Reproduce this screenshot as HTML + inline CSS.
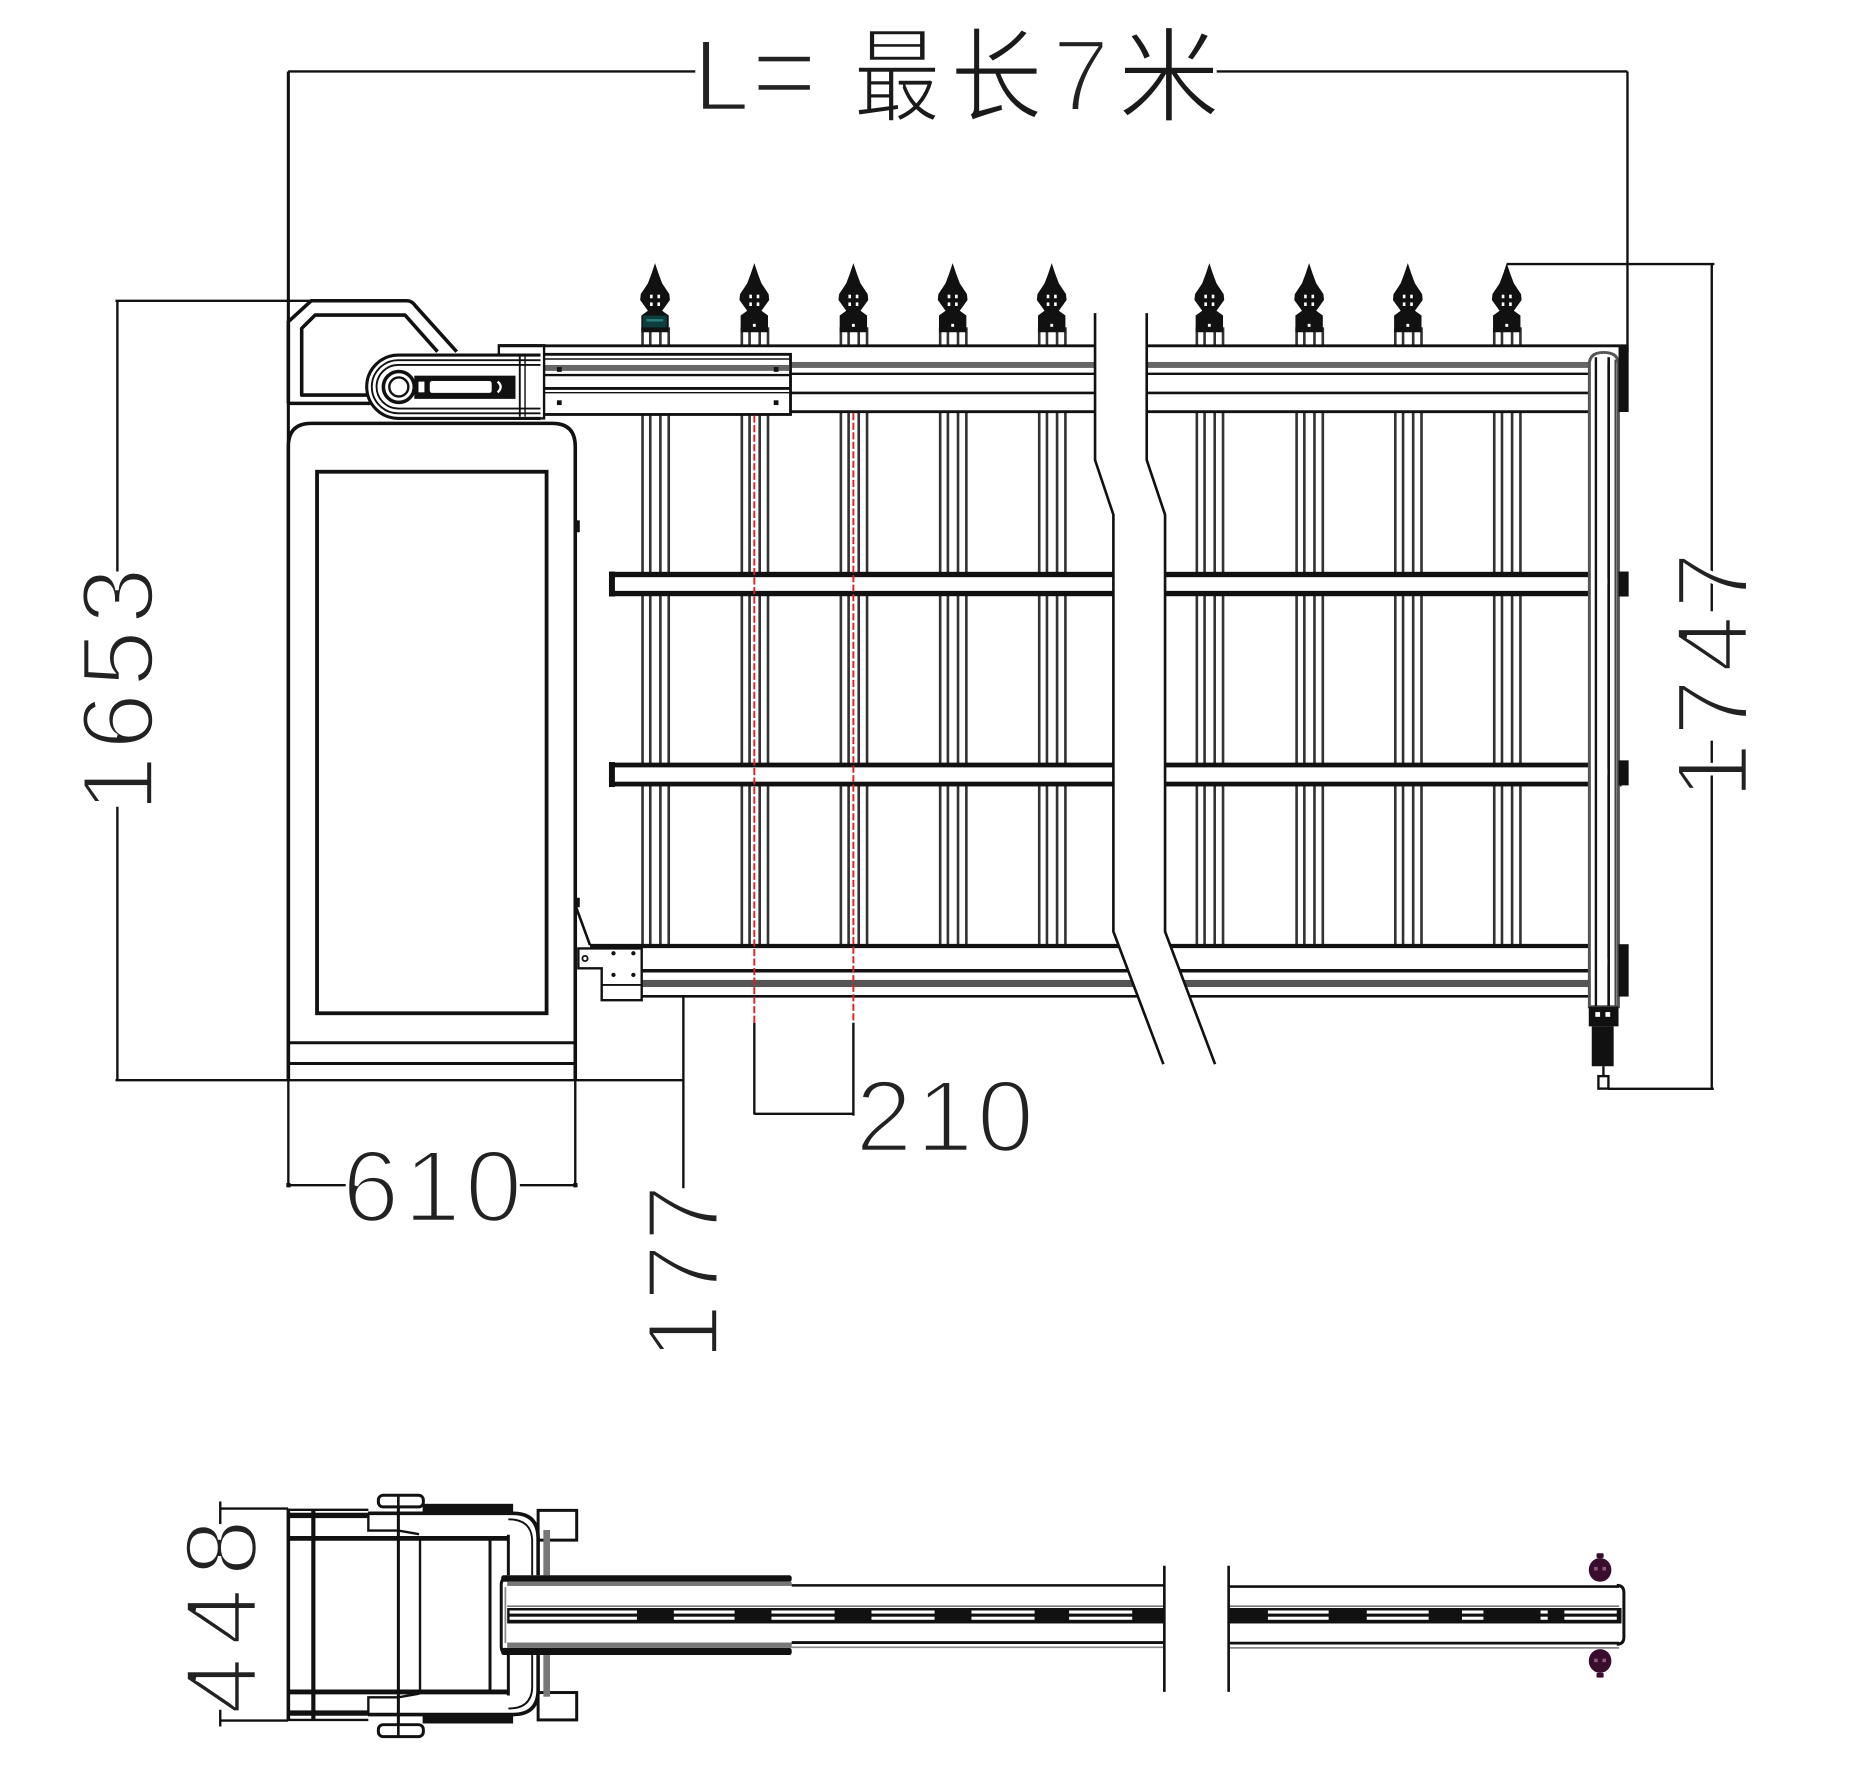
<!DOCTYPE html>
<html><head><meta charset="utf-8"><title>gate drawing</title>
<style>html,body{margin:0;padding:0;background:#fff}svg{display:block}</style></head>
<body>
<svg xmlns="http://www.w3.org/2000/svg" xmlns:xlink="http://www.w3.org/1999/xlink" width="1862" height="1786" viewBox="0 0 1564 1500" preserveAspectRatio="none">
<defs>
<g id="sp">
 <polygon points="0,221 3,230 6,238 12,247 12.5,252 6,261 11.5,265 11.5,279 -11.5,279 -11.5,265 -6,261 -12.5,252 -12,247 -6,238 -3,230" fill="#111"/>
 <rect x="-4.2" y="247.5" width="2.2" height="3" fill="#fff"/>
 <rect x="2" y="247.5" width="2.2" height="3" fill="#fff"/>
 <rect x="-4.2" y="254" width="2.2" height="3" fill="#fff"/>
 <rect x="2" y="254" width="2.2" height="3" fill="#fff"/>
 <rect x="-1.2" y="272" width="2.4" height="2.5" fill="#fff"/>
</g>
<g id="bp">
 <rect x="-10.5" y="276" width="6.5" height="518" fill="#fff" stroke="#333" stroke-width="2.2"/>
 <rect x="4.5" y="276" width="7" height="518" fill="#fff" stroke="#333" stroke-width="2.2"/>
</g>
</defs>
<rect width="1564" height="1500" fill="#fff"/>

<!-- ===== Dimension lines ===== -->
<g stroke="#111" stroke-width="2" fill="none">
 <line x1="242" y1="60" x2="584" y2="60"/>
 <line x1="1022" y1="60" x2="1367" y2="60"/>
 <line x1="1367" y1="60" x2="1367" y2="296"/>
 <line x1="97" y1="252.6" x2="262" y2="252.6"/>
 <line x1="98.6" y1="252.6" x2="98.6" y2="480"/>
 <line x1="98.6" y1="677.6" x2="98.6" y2="907.2"/>
 <line x1="97" y1="907.2" x2="574" y2="907.2"/>
 <line x1="242.2" y1="907" x2="242.2" y2="997"/>
 <line x1="483.2" y1="907" x2="483.2" y2="997"/>
 <line x1="242" y1="995.4" x2="291" y2="995.4"/>
 <line x1="435" y1="995.4" x2="484" y2="995.4"/>
 <line x1="574" y1="837" x2="574" y2="998"/>
 <line x1="633.6" y1="859" x2="633.6" y2="936"/>
 <line x1="716.8" y1="859" x2="716.8" y2="937"/>
 <line x1="633.6" y1="935.5" x2="716.8" y2="935.5"/>
 <line x1="1265.6" y1="221.8" x2="1440" y2="221.8"/>
 <line x1="1437.8" y1="221.8" x2="1437.8" y2="513.4"/>
 <line x1="1437.8" y1="622" x2="1437.8" y2="914.5"/>
 <line x1="1351" y1="914.5" x2="1439.5" y2="914.5"/>
 <line x1="185" y1="1267" x2="242" y2="1267"/>
 <line x1="185" y1="1445" x2="242" y2="1445"/>
 <line x1="185" y1="1261" x2="185" y2="1280"/>
 <line x1="185" y1="1436" x2="185" y2="1450"/>
</g>
<g fill="#111">
 <rect x="240.5" y="993.6" width="3.6" height="3.6"/>
 <rect x="481.5" y="993.6" width="3.6" height="3.6"/>
</g>

<!-- ===== Texts ===== -->
<g font-family="'Liberation Sans', sans-serif" font-size="86" fill="#222" stroke="#fff" stroke-width="3">
 <text x="582" y="93">L</text>
 <text x="631" y="93" font-size="95">=</text>
 <text x="884" y="93">7</text>
 <text transform="translate(128.6,579.5) rotate(-90)" text-anchor="middle" textLength="206" lengthAdjust="spacing">1653</text>
 <text transform="translate(1468,567.5) rotate(-90)" text-anchor="middle" textLength="208" lengthAdjust="spacing">1747</text>
 <text transform="translate(603,1068.8) rotate(-90)" text-anchor="middle" textLength="148" lengthAdjust="spacing">177</text>
 <text transform="translate(215.6,1358) rotate(-90)" text-anchor="middle" textLength="164" lengthAdjust="spacing">448</text>
 <text x="363" y="1026" text-anchor="middle" textLength="151" lengthAdjust="spacing">610</text>
 <text x="793.5" y="967" text-anchor="middle" textLength="150" lengthAdjust="spacing">210</text>
</g>
<g font-family="'Liberation Sans','Noto Sans CJK SC',sans-serif" font-size="86" fill="#1a1a1a" stroke="#fff" stroke-width="2">
 <text x="717" y="95" textLength="73" lengthAdjust="spacingAndGlyphs">最</text>
 <text x="798" y="95" textLength="78" lengthAdjust="spacingAndGlyphs">长</text>
 <text x="939" y="95" textLength="86" lengthAdjust="spacingAndGlyphs">米</text>
</g>

<!-- ===== Fence bars ===== -->
<use xlink:href="#bp" href="#bp" x="550.2"/>
<use xlink:href="#bp" href="#bp" x="633.6"/>
<use xlink:href="#bp" href="#bp" x="716.8"/>
<use xlink:href="#bp" href="#bp" x="800.2"/>
<use xlink:href="#bp" href="#bp" x="883.4"/>
<use xlink:href="#bp" href="#bp" x="1015.8"/>
<use xlink:href="#bp" href="#bp" x="1099.6"/>
<use xlink:href="#bp" href="#bp" x="1182.5"/>
<use xlink:href="#bp" href="#bp" x="1265.6"/>

<!-- middle rails -->
<rect x="514" y="482.5" width="846" height="16" fill="#fff" stroke="#111" stroke-width="4.5"/>
<rect x="511.5" y="480" width="5" height="21" fill="#111"/>
<rect x="514" y="642.5" width="846" height="16" fill="#fff" stroke="#111" stroke-width="4"/>
<rect x="511.5" y="640" width="5" height="21" fill="#111"/>

<!-- bottom rail -->
<rect x="496" y="794" width="838" height="43" fill="#fff"/>
<g stroke="#111" fill="none">
 <line x1="495.6" y1="794.5" x2="1334" y2="794.5" stroke-width="3.5"/>
 <line x1="539" y1="815.3" x2="1334" y2="815.3" stroke-width="3"/>
 <line x1="539" y1="836.8" x2="1334" y2="836.8" stroke-width="2.2"/>
</g>
<rect x="539" y="823" width="795" height="6" fill="#555"/>

<!-- top rail -->
<rect x="420" y="290.4" width="914" height="55.4" fill="#fff"/>
<rect x="664" y="304" width="670" height="5" fill="#666"/>
<g stroke="#111" fill="none">
 <line x1="420" y1="290.4" x2="1367" y2="290.4" stroke-width="2.4"/>
 <line x1="664" y1="314" x2="1334" y2="314" stroke-width="2"/>
 <line x1="664" y1="330" x2="1334" y2="330" stroke-width="2.2"/>
 <line x1="420" y1="345.8" x2="1334" y2="345.8" stroke-width="2.4"/>
</g>

<!-- break gap -->
<polygon points="919.8,262 919.8,386.4 935.2,432.3 935.2,782.4 977.2,893.8 1020.6,893.8 978.6,782.4 978.6,432.3 963.2,386.4 963.2,262" fill="#fff"/>
<g stroke="#111" stroke-width="2.2" fill="none">
 <polyline points="919.8,263 919.8,386.4 935.2,432.3 935.2,782.4 977.2,893.8"/>
 <polyline points="963.2,263 963.2,386.4 978.6,432.3 978.6,782.4 1020.6,893.8"/>
</g>

<!-- spikes -->
<use xlink:href="#sp" href="#sp" x="550.2"/>
<use xlink:href="#sp" href="#sp" x="633.6"/>
<use xlink:href="#sp" href="#sp" x="716.8"/>
<use xlink:href="#sp" href="#sp" x="800.2"/>
<use xlink:href="#sp" href="#sp" x="883.4"/>
<use xlink:href="#sp" href="#sp" x="1015.8"/>
<use xlink:href="#sp" href="#sp" x="1099.6"/>
<use xlink:href="#sp" href="#sp" x="1182.5"/>
<use xlink:href="#sp" href="#sp" x="1265.6"/>
<rect x="540" y="265" width="20" height="10" fill="#0d3d3d"/>
<rect x="543" y="268" width="14" height="2" fill="#2a8080"/>

<!-- collar on top rail -->
<rect x="456" y="297.6" width="208" height="50.5" fill="#fff" stroke="#111" stroke-width="2.4"/>
<rect x="457" y="306.5" width="206" height="5" fill="#666"/>
<g stroke="#111" fill="none">
 <line x1="457" y1="301.5" x2="663" y2="301.5" stroke-width="1.2"/>
 <line x1="457" y1="315" x2="663" y2="315" stroke-width="2"/>
 <line x1="457" y1="326.2" x2="663" y2="326.2" stroke-width="2.4"/>
 <line x1="457" y1="329.8" x2="663" y2="329.8" stroke-width="1.2"/>
</g>
<g fill="#111">
 <rect x="467.8" y="308.3" width="4" height="4"/>
 <rect x="649.9" y="308.3" width="4" height="4"/>
 <rect x="467.8" y="336.2" width="4" height="4"/>
 <rect x="649.9" y="336.2" width="4" height="4"/>
</g>

<!-- head housing -->
<g stroke="#111" stroke-width="3" fill="none" stroke-linejoin="round">
 <path d="M242.2,338.8 V270.2 L261.4,252.6 H341.8 Q346,252.6 349,257 L383.6,295.4"/>
 <path d="M309.6,331.8 H253.4 V275.8 L264.7,264.6 H340.2 L367.5,295.4"/>
 <line x1="242" y1="338.8" x2="312" y2="338.8"/>
</g>
<rect x="419" y="290" width="38" height="61.4" fill="#fff" stroke="#111" stroke-width="2"/>
<line x1="420" y1="290.4" x2="456" y2="290.4" stroke="#111" stroke-width="2.4"/>
<path d="M454,298.2 H334.6 A26.6,26.6 0 0 0 334.6,351.4 H454" fill="#fff" stroke="#111" stroke-width="2.6"/>
<g stroke="#111" fill="none">
 <path d="M454,302.5 H334.6 A22.3,22.3 0 0 0 334.6,347.1 H454" stroke-width="1.6"/>
 <path d="M454,306.5 H334.6 A18.3,18.3 0 0 0 334.6,343.1 H454" stroke-width="1.6"/>
 <line x1="436.6" y1="299" x2="436.6" y2="350" stroke-width="1.6"/>
 <line x1="441" y1="299" x2="441" y2="350" stroke-width="1.2"/>
 <circle cx="335" cy="325" r="13" stroke-width="3"/>
 <circle cx="335" cy="325" r="8" stroke-width="2"/>
</g>
<rect x="348" y="315.5" width="85" height="19.5" fill="#111"/>
<rect x="361" y="320" width="52" height="10" rx="2" fill="#fff"/>
<rect x="351" y="320" width="6" height="10" fill="#fff" stroke="#111" stroke-width="1"/>
<path d="M418,320.5 Q423,325 418,329.5" stroke="#fff" stroke-width="2" fill="none"/>

<!-- cabinet -->
<g stroke="#111" fill="none">
 <line x1="242.2" y1="60" x2="242.2" y2="907" stroke-width="2.6"/>
 <path d="M242.2,907 V375 Q242.2,355.6 261.5,355.6 H464 Q483.2,355.6 483.2,375 V907" stroke-width="3"/>
 <rect x="266.3" y="396.2" width="192.8" height="454.8" stroke-width="3.2"/>
 <line x1="242" y1="875.8" x2="483" y2="875.8" stroke-width="2.5"/>
 <line x1="242" y1="893.2" x2="483" y2="893.2" stroke-width="2.5"/>
 <line x1="483.2" y1="760" x2="495.6" y2="793.8" stroke-width="2.2"/>
</g>
<rect x="483" y="437" width="4" height="10" fill="#111"/>
<rect x="483" y="754" width="4" height="8" fill="#111"/>

<!-- plate -->
<path d="M485.8,796.6 H539 V840 H505.4 V813.3 H485.8 Z" fill="#fff" stroke="#111" stroke-width="2"/>
<line x1="505.4" y1="827.2" x2="539" y2="827.2" stroke="#111" stroke-width="1.5"/>
<circle cx="491.4" cy="805" r="2.2" fill="none" stroke="#111" stroke-width="1.5"/>
<g fill="#111">
 <circle cx="515.3" cy="800.6" r="1.8"/><circle cx="532" cy="800.6" r="1.8"/>
 <circle cx="515.3" cy="818.8" r="1.8"/><circle cx="532" cy="818.8" r="1.8"/>
</g>

<!-- right post -->
<path d="M1335,845.5 V306 Q1335,296 1347,296 Q1359.4,296 1359.4,306 V845.5 Z" fill="#fff" stroke="#555" stroke-width="2.5"/>
<g stroke="#111" fill="none">
 <line x1="1340.5" y1="300" x2="1340.5" y2="845" stroke-width="2"/>
 <line x1="1351.2" y1="300" x2="1351.2" y2="845" stroke-width="2.2"/>
 <line x1="1357" y1="302" x2="1357" y2="845" stroke-width="1.8" stroke="#444"/>
</g>
<g fill="#111">
 <rect x="1359.5" y="290" width="8.5" height="56"/>
 <rect x="1359.5" y="480" width="8.5" height="21"/>
 <rect x="1359.5" y="638.6" width="8.5" height="21"/>
 <rect x="1359.5" y="793" width="8.5" height="44"/>
 <rect x="1334.5" y="845.5" width="25" height="16.5"/>
 <rect x="1337" y="862" width="18.4" height="33.5"/>
</g>
<g fill="#fff">
 <rect x="1340" y="850" width="4" height="4"/>
 <rect x="1348.5" y="850" width="4" height="4"/>
 <rect x="1342" y="300" width="8" height="5"/>
 <rect x="1342" y="486" width="8" height="5"/>
 <rect x="1342" y="646" width="8" height="5"/>
 <rect x="1342" y="805" width="8" height="5"/>
</g>
<rect x="1342.6" y="903.8" width="8.4" height="10.5" fill="#fff" stroke="#111" stroke-width="2"/>
<line x1="1346.8" y1="895.5" x2="1346.8" y2="903.8" stroke="#111" stroke-width="2"/>

<!-- red dashed lines -->
<g stroke="#e02020" stroke-width="1.6" stroke-dasharray="6 2" fill="none">
 <line x1="633.6" y1="349" x2="633.6" y2="859"/>
 <line x1="716.8" y1="347" x2="716.8" y2="859"/>
</g>

<!-- ===== Bottom view ===== -->
<g stroke="#111" fill="none">
 <line x1="242.2" y1="1267" x2="242.2" y2="1445" stroke-width="3"/>
 <line x1="242" y1="1268" x2="309.4" y2="1268" stroke-width="2"/>
 <line x1="242" y1="1444.5" x2="309.4" y2="1444.5" stroke-width="2"/>
 <line x1="263.2" y1="1268" x2="263.2" y2="1445" stroke-width="3.5"/>
 <line x1="242" y1="1292" x2="427" y2="1292" stroke-width="4"/>
 <line x1="242" y1="1421" x2="427" y2="1421" stroke-width="4"/>
 <line x1="427" y1="1289" x2="427" y2="1424" stroke-width="2.5"/>
 <line x1="334.6" y1="1256" x2="334.6" y2="1459" stroke-width="2.5"/>
 <line x1="352.8" y1="1292" x2="352.8" y2="1421" stroke-width="2"/>
 <line x1="411.6" y1="1292" x2="411.6" y2="1421" stroke-width="2.5"/>
 <path d="M309.4,1271 V1285.5 H334.6 L352,1288.5" stroke-width="2"/>
 <path d="M309.4,1440 V1425.5 H334.6 L352,1422.5" stroke-width="2"/>
 <path d="M309,1271 H431 Q452,1271 452,1292 V1419 Q452,1440 431,1440 H309" stroke-width="3"/>
 <path d="M427,1276 Q446,1276 447,1293 V1418 Q446,1435 427,1435" stroke-width="1.6"/>
 <rect x="452" y="1268.5" width="32.4" height="25" stroke-width="2.5"/>
 <rect x="452" y="1421.5" width="32.4" height="23" stroke-width="2.5"/>
</g>
<rect x="242" y="1270.5" width="67" height="4.5" fill="#111"/>
<rect x="242" y="1436.5" width="67" height="4.5" fill="#111"/>
<rect x="355" y="1263" width="76" height="7" fill="#111"/>
<rect x="355" y="1440.5" width="76" height="7" fill="#111"/>
<rect x="456.4" y="1285" width="5.6" height="140" fill="#777"/>
<rect x="317.8" y="1255.8" width="37.8" height="9.8" rx="4" fill="#fff" stroke="#111" stroke-width="2.5"/>
<rect x="317.8" y="1448.5" width="37.8" height="10" rx="4" fill="#fff" stroke="#111" stroke-width="2.5"/>
<line x1="334.6" y1="1256" x2="334.6" y2="1459" stroke="#111" stroke-width="2.2"/>

<!-- arm collar -->
<rect x="421" y="1323" width="244" height="67" fill="#fff"/>
<rect x="421" y="1323" width="244" height="5.5" rx="2" fill="#111"/>
<rect x="426" y="1328.5" width="239" height="3.5" fill="#777"/>
<rect x="421" y="1384" width="244" height="6" rx="2" fill="#111"/>
<rect x="426" y="1379.5" width="239" height="4.5" fill="#777"/>
<path d="M427,1325 Q421,1325 421,1331 V1383 Q421,1389 427,1389" stroke="#111" stroke-width="2.5" fill="none"/>
<line x1="424.5" y1="1333" x2="424.5" y2="1380" stroke="#888" stroke-width="1.5"/>

<g stroke="#111" fill="none">
 <line x1="665" y1="1331.5" x2="978" y2="1331.5" stroke-width="2.2"/>
 <line x1="665" y1="1379.5" x2="978" y2="1379.5" stroke-width="2.4"/>
 <line x1="665" y1="1383.5" x2="978" y2="1383.5" stroke-width="1.4" stroke="#888"/>
 <line x1="426" y1="1349" x2="978" y2="1349" stroke-width="1.4" stroke="#777"/>
 <line x1="1032" y1="1332.5" x2="1360" y2="1332.5" stroke-width="2.2"/>
 <line x1="1032" y1="1380" x2="1360" y2="1380" stroke-width="2.4"/>
 <line x1="1032" y1="1384" x2="1360" y2="1384" stroke-width="1.4" stroke="#888"/>
 <line x1="1032" y1="1349" x2="1360" y2="1349" stroke-width="1.4" stroke="#777"/>
</g>
<rect x="426" y="1350.5" width="552" height="13" fill="#111"/>
<rect x="1032" y="1350.5" width="330" height="13" fill="#111"/>
<g fill="#fff">
 <rect x="428" y="1352.6" width="107" height="2.6"/><rect x="428" y="1357.8" width="107" height="2.6"/>
 <rect x="566" y="1352.6" width="51" height="2.6"/><rect x="566" y="1357.8" width="51" height="2.6"/>
 <rect x="648" y="1352.6" width="53" height="2.6"/><rect x="648" y="1357.8" width="53" height="2.6"/>
 <rect x="732" y="1352.6" width="53" height="2.6"/><rect x="732" y="1357.8" width="53" height="2.6"/>
 <rect x="816" y="1352.6" width="53" height="2.6"/><rect x="816" y="1357.8" width="53" height="2.6"/>
 <rect x="898" y="1352.6" width="53" height="2.6"/><rect x="898" y="1357.8" width="53" height="2.6"/>
 <rect x="1065" y="1352.6" width="51" height="2.6"/><rect x="1065" y="1357.8" width="51" height="2.6"/>
 <rect x="1148" y="1352.6" width="52" height="2.6"/><rect x="1148" y="1357.8" width="52" height="2.6"/>
 <rect x="1228" y="1352.6" width="18" height="2.6"/><rect x="1228" y="1357.8" width="18" height="2.6"/>
 <rect x="1294" y="1352.6" width="6" height="2.6"/><rect x="1294" y="1357.8" width="6" height="2.6"/>
 <rect x="1314" y="1352.6" width="44" height="2.6"/><rect x="1314" y="1357.8" width="44" height="2.6"/>
</g>
<path d="M1358,1331.5 Q1364,1331.5 1364,1337.5 V1375 Q1364,1381 1358,1381" stroke="#111" stroke-width="2.5" fill="none"/>
<g stroke="#111" stroke-width="2.2">
 <line x1="978" y1="1315" x2="978" y2="1421"/>
 <line x1="1032" y1="1315" x2="1032" y2="1421"/>
</g>
<g fill="#3a0d2e">
 <rect x="1341" y="1304.5" width="6" height="4" rx="1"/>
 <ellipse cx="1344" cy="1318.5" rx="9.5" ry="10"/>
 <ellipse cx="1344" cy="1395" rx="9.5" ry="10"/>
 <rect x="1341" y="1405" width="6" height="4" rx="1"/>
</g>
<g fill="#8a5a7a">
 <rect x="1339" y="1316" width="3" height="3"/><rect x="1346" y="1316" width="3" height="3"/>
 <rect x="1339" y="1393" width="3" height="3"/><rect x="1346" y="1393" width="3" height="3"/>
</g>
</svg>
</body></html>
